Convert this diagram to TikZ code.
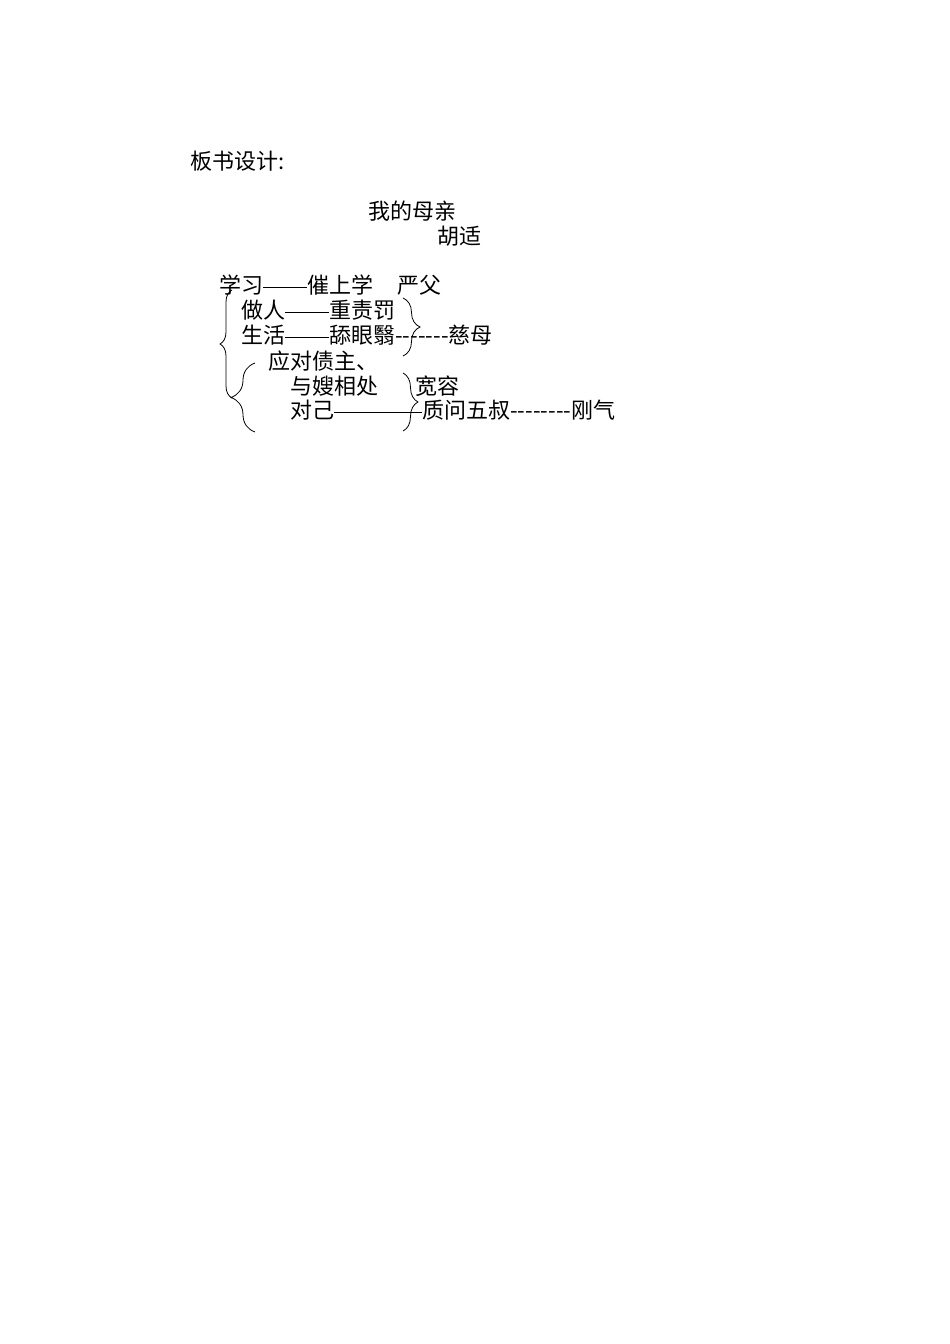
\documentclass[tikz,border=0pt]{standalone}
\usepackage{fontspec}
\newfontfamily\cjk{Noto Sans CJK SC}
\newcommand{\emd}{\rule[0.26em]{1em}{0.055em}}
\usetikzlibrary{decorations.pathreplacing}
\begin{document}
\begin{tikzpicture}[x=1pt,y=1pt,
  txt/.style={anchor=west,inner sep=0pt,font=\cjk\fontsize{22}{22}\selectfont,text height=0.88em,text depth=0.12em},
  brc/.style={draw=black,line width=0.8pt,decorate,decoration={brace,amplitude=#1}}]
\useasboundingbox (0,0) rectangle (950,-1344);
\node[txt] (hdr) at (190,-166) {板书设计:};
\node[txt] (title) at (368,-216) {我的母亲};
\node[txt] (author) at (437,-241) {胡适};
\node[txt] (xuexi) at (219,-290) {学习\emd\emd 催上学};
\node[txt] (yanfu) at (397,-290) {严父};
\node[txt] (zuoren) at (241,-315) {做人\emd\emd 重责罚};
\node[txt] (shenghuo) at (241,-340) {生活\emd\emd 舔眼翳-------慈母};
\node[txt] (zhaizhu) at (268,-366) {应对债主、};
\node[txt] (sao) at (290,-391) {与嫂相处};
\node[txt] (kuanrong) at (415,-391) {宽容};
\node[txt] (duiji) at (290,-415) {对己\emd\emd\emd\emd 质问五叔--------刚气};
\coordinate (b1a) at (232,-398);
\coordinate (b1b) at (232,-290);
\coordinate (b2a) at (255,-432);
\coordinate (b2b) at (255,-363);
\coordinate (b3a) at (403,-298);
\coordinate (b3b) at (403,-356);
\coordinate (b4a) at (403,-373);
\coordinate (b4b) at (403,-431);
\draw[brc=12pt] (b1a) -- (b1b);
\draw[brc=24pt] (b2a) -- (b2b);
\draw[brc=17pt] (b3a) -- (b3b);
\draw[brc=15pt] (b4a) -- (b4b);
\end{tikzpicture}
\end{document}
